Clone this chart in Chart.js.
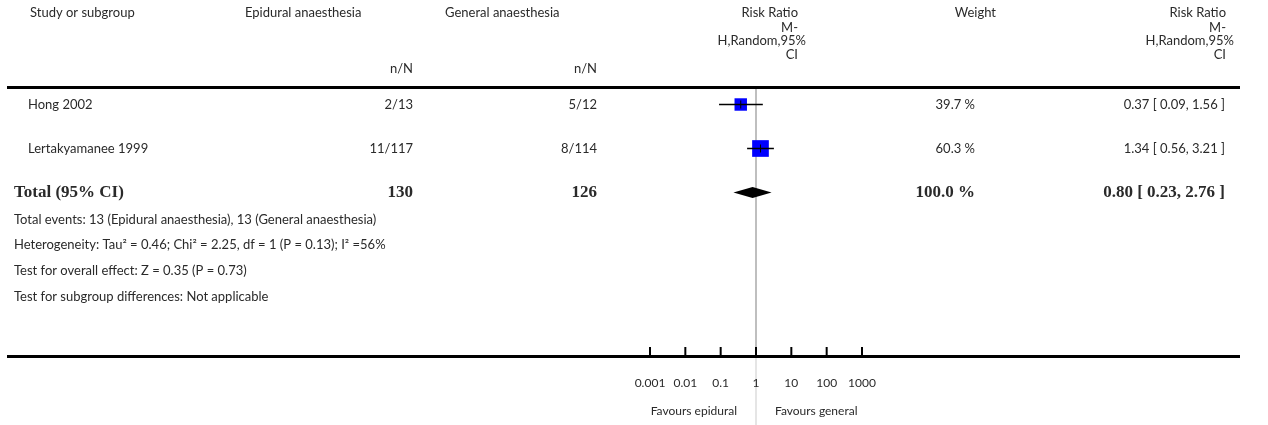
<!DOCTYPE html>
<html><head><meta charset="utf-8">
<script src="https://cdn.jsdelivr.net/npm/chart.js@4.4.1/dist/chart.umd.min.js"></script>
<style>html,body{margin:0;padding:0;background:#fff;}#wrap{width:1268px;height:425px;position:relative;}</style>
</head><body><div id="wrap"><canvas id="c" width="1268" height="425"></canvas></div>
<script>
const studies = ["Hong 2002", "Lertakyamanee 1999"];
const epiEvents = [2, 11];
const epiTotal = [13, 117];
const genEvents = [5, 8];
const genTotal = [12, 114];
const weights = [39.7, 60.3];
const riskRatio = [0.37, 1.34];
const ciLow = [0.09, 0.56];
const ciHigh = [1.56, 3.21];
const totalEpi = 130, totalGen = 126, totalWeight = 100.0;
const totalRR = 0.80, totalLow = 0.23, totalHigh = 2.76;
const tickValues = [0.001, 0.01, 0.1, 1, 10, 100, 1000];
const tickLabels = ["0.001", "0.01", "0.1", "1", "10", "100", "1000"];
const footnotes = [
  "Total events: 13 (Epidural anaesthesia), 13 (General anaesthesia)",
  "Heterogeneity: Tau\u00B2 = 0.46; Chi\u00B2 = 2.25, df = 1 (P = 0.13); I\u00B2 =56%",
  "Test for overall effect: Z = 0.35 (P = 0.73)",
  "Test for subgroup differences: Not applicable"
];
const footRows = [2.625, 3.2, 3.78, 4.37];

const SANS = "Lato, 'Open Sans', sans-serif";
const SERIF = "'Liberation Serif', 'DejaVu Serif', serif";
const TXT = "#2a2a2a";
const fmt2 = v => v.toFixed(2);
const fmtCI = (r, l, h) => fmt2(r) + " [ " + fmt2(l) + ", " + fmt2(h) + " ]";

const forestPlugin = {
  id: 'forest',
  beforeDatasetsDraw(chart) {
    const {ctx, scales: {x}} = chart;
    const x1 = x.getPixelForValue(1);
    ctx.save();
    ctx.strokeStyle = "#aaaaaa"; ctx.lineWidth = 1.5;
    ctx.beginPath(); ctx.moveTo(x1, 88); ctx.lineTo(x1, 357); ctx.stroke();
    ctx.strokeStyle = "#dddddd";
    ctx.beginPath(); ctx.moveTo(x1, 357); ctx.lineTo(x1, 425); ctx.stroke();
    ctx.restore();
  },
  afterDatasetsDraw(chart) {
    const {ctx, scales: {x, y}} = chart;
    ctx.save();
    ctx.strokeStyle = "#000"; ctx.lineWidth = 1.5;
    studies.forEach((s, i) => {
      const py = y.getPixelForValue(i);
      ctx.beginPath();
      ctx.moveTo(x.getPixelForValue(ciLow[i]), py);
      ctx.lineTo(x.getPixelForValue(ciHigh[i]), py);
      ctx.stroke();
      const px = x.getPixelForValue(riskRatio[i]);
      ctx.lineWidth = 1;
      ctx.beginPath(); ctx.moveTo(px, py - 4); ctx.lineTo(px, py + 4); ctx.stroke();
      ctx.lineWidth = 1.5;
    });
    const ty = y.getPixelForValue(2);
    ctx.fillStyle = "#000";
    ctx.beginPath();
    ctx.moveTo(x.getPixelForValue(totalLow), ty);
    ctx.lineTo(x.getPixelForValue(totalRR), ty - 5.5);
    ctx.lineTo(x.getPixelForValue(totalHigh), ty);
    ctx.lineTo(x.getPixelForValue(totalRR), ty + 5.5);
    ctx.closePath(); ctx.fill();
    ctx.restore();
  },
  afterDraw(chart) {
    const {ctx, scales: {x, y}} = chart;
    ctx.save();
    ctx.textBaseline = "middle";
    ctx.fillStyle = TXT;
    const t = (s, px, py, align, font) => { ctx.font = font || ("13px " + SANS); ctx.textAlign = align; ctx.fillText(s, px, py); };
    t("Study or subgroup", 30, 13, "left");
    t("Epidural anaesthesia", 245, 13, "left");
    t("n/N", 413, 69, "right");
    t("General anaesthesia", 445, 13, "left");
    t("n/N", 597, 69, "right");
    [["Risk Ratio", 798, 13], ["M-", 798, 28], ["H,Random,95%", 806, 41], ["CI", 798, 55]].forEach(a => t(a[0], a[1], a[2], "right"));
    t("Weight", 996, 13, "right");
    [["Risk Ratio", 1226, 13], ["M-", 1226, 28], ["H,Random,95%", 1234, 41], ["CI", 1226, 55]].forEach(a => t(a[0], a[1], a[2], "right"));
    ctx.strokeStyle = "#000"; ctx.lineWidth = 3;
    ctx.beginPath(); ctx.moveTo(7, 87.5); ctx.lineTo(1240, 87.5); ctx.stroke();
    ctx.beginPath(); ctx.moveTo(7, 356.5); ctx.lineTo(1240, 356.5); ctx.stroke();
    studies.forEach((s, i) => {
      const py = y.getPixelForValue(i);
      t(s, 28, py, "left");
      t(epiEvents[i] + "/" + epiTotal[i], 413, py, "right");
      t(genEvents[i] + "/" + genTotal[i], 597, py, "right");
      t(weights[i].toFixed(1) + " %", 975, py, "right");
      t(fmtCI(riskRatio[i], ciLow[i], ciHigh[i]), 1225, py, "right");
    });
    const ty = y.getPixelForValue(2);
    const bf = "bold 17px " + SERIF;
    t("Total (95% CI)", 14, ty, "left", bf);
    t(String(totalEpi), 413, ty, "right", bf);
    t(String(totalGen), 597, ty, "right", bf);
    t(totalWeight.toFixed(1) + " %", 975, ty, "right", bf);
    t(fmtCI(totalRR, totalLow, totalHigh), 1225, ty, "right", bf);
    footnotes.forEach((f, i) => t(f, 14, y.getPixelForValue(footRows[i]), "left"));
    ctx.lineWidth = 2;
    tickValues.forEach((v, i) => {
      const px = x.getPixelForValue(v);
      ctx.beginPath(); ctx.moveTo(px, 347); ctx.lineTo(px, 356); ctx.stroke();
      t(tickLabels[i], px, 383, "center", "12px " + SANS);
    });
    const x1 = x.getPixelForValue(1);
    t("Favours epidural", x1 - 19, 411, "right", "12px " + SANS);
    t("Favours general", x1 + 19, 411, "left", "12px " + SANS);
    ctx.restore();
  }
};

new Chart(document.getElementById('c'), {
  type: 'scatter',
  data: {
    datasets: [{
      data: studies.map((s, i) => ({x: riskRatio[i], y: i})),
      pointStyle: 'rect',
      pointRadius: [8.8, 11.8],
      pointHoverRadius: [8.8, 11.8],
      backgroundColor: '#0000ff',
      borderColor: '#0000ff',
      borderWidth: 0
    }]
  },
  options: {
    responsive: false,
    animation: false,
    events: [],
    layout: {padding: {left: 650, right: 406, top: 88, bottom: 68}},
    plugins: {legend: {display: false}, tooltip: {enabled: false}},
    scales: {
      x: {type: 'logarithmic', min: 0.001, max: 1000, display: false},
      y: {type: 'linear', min: -0.375, max: 5.739, reverse: true, display: false}
    }
  },
  plugins: [forestPlugin]
});
</script>
</body></html>
